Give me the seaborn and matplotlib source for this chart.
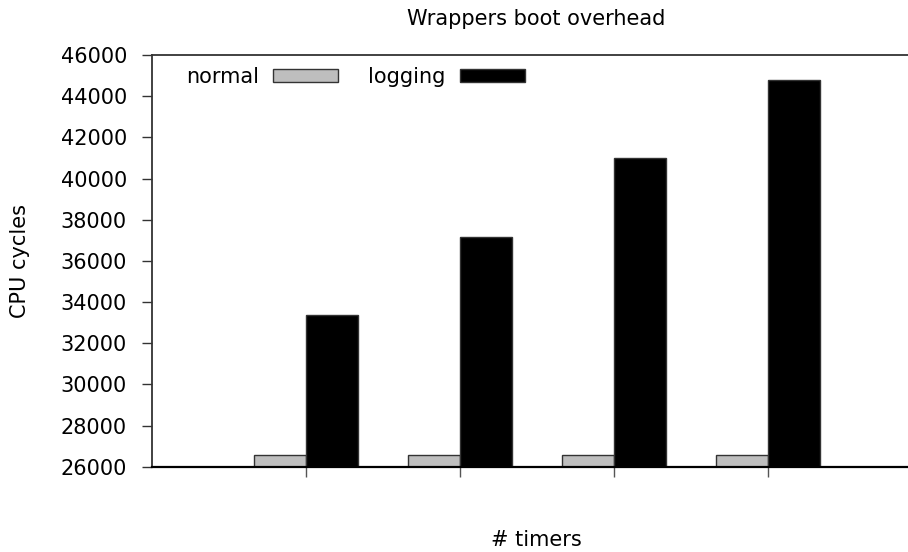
import matplotlib
matplotlib.use("Agg")
import matplotlib.pyplot as plt
import seaborn as sns
import pandas as pd
from matplotlib.patches import Patch

# ---- data ----
timers = ["1", "2", "3", "4"]
normal = [26570, 26570, 26570, 26570]
logging_ = [33350, 37170, 40980, 44790]
series = ["normal", "logging"]
yticks = list(range(26000, 46001, 2000))

df = pd.DataFrame({
    "timers": timers * 2,
    "cycles": normal + logging_,
    "series": ["normal"] * len(timers) + ["logging"] * len(timers),
})

sns.set_style("white")
plt.rcParams["font.family"] = ["DejaVu Sans"]
plt.rcParams["text.color"] = "black"
plt.rcParams["axes.labelcolor"] = "black"
plt.rcParams["xtick.labelcolor"] = "black"
plt.rcParams["ytick.labelcolor"] = "black"

W, H = 908, 552
fig = plt.figure(figsize=(W / 100, H / 100), dpi=100)
ax = fig.add_axes([152 / W, (H - 466.7) / H, (W - 152) / W, (466.7 - 55) / H])

colors = {"normal": "#bebebe", "logging": "#000000"}
sns.barplot(data=df, x="timers", y="cycles", hue="series", hue_order=series,
            palette=colors, width=0.67, ax=ax, legend=False,
            edgecolor="#333333", linewidth=1.0, saturation=1)

ax.set_ylim(26000, 46000)
ax.set_xlim(-1, -1 + (W - 152) / 154)
ax.set_yticks(yticks)
ax.set_yticklabels([str(v) for v in yticks], fontsize=15, color="black")
ax.set_xticks(range(len(timers)))
ax.set_xticklabels([])

ax.tick_params(axis="y", direction="out", length=7.2, width=1.0, color="#333333",
               pad=10.8, left=True)
ax.tick_params(axis="x", direction="out", length=7.2, width=1.0, color="#555555",
               bottom=True)

for s in ["top", "left", "bottom"]:
    ax.spines[s].set_visible(True)
ax.spines["right"].set_visible(False)
ax.spines["top"].set_color("#333333")
ax.spines["top"].set_linewidth(1.3)
ax.spines["left"].set_color("#333333")
ax.spines["left"].set_linewidth(1.3)
ax.spines["bottom"].set_color("#000000")
ax.spines["bottom"].set_linewidth(1.6)

ax.set_title("Wrappers boot overhead", fontsize=15, color="black",
             x=(536 - 152) / (W - 152), y=1 + 36 / 411.7, pad=0, va="center")
ax.set_xlabel("# timers", fontsize=15, color="black")
ax.xaxis.set_label_coords((536 - 152) / (W - 152), (466.7 - 540) / 411.7)
ax.xaxis.label.set_va("center")
ax.set_ylabel("CPU cycles", fontsize=15, color="black")
ax.yaxis.set_label_coords((20 - 152) / (W - 152), 0.5)
ax.yaxis.label.set_va("center")

handles = [Patch(facecolor=colors[s], edgecolor="#333333", linewidth=1.0) for s in series]
leg = ax.legend(handles, series, loc="center left",
                bbox_to_anchor=((185.7 - 152) / (W - 152), (466.7 - 77) / 411.7),
                ncol=2, markerfirst=False, frameon=False, fontsize=15,
                handlelength=3.1, handleheight=0.58, handletextpad=0.7,
                columnspacing=1.45, borderpad=0, borderaxespad=0)
for t in leg.get_texts():
    t.set_color("black")

fig.savefig("out.png", dpi=100)
